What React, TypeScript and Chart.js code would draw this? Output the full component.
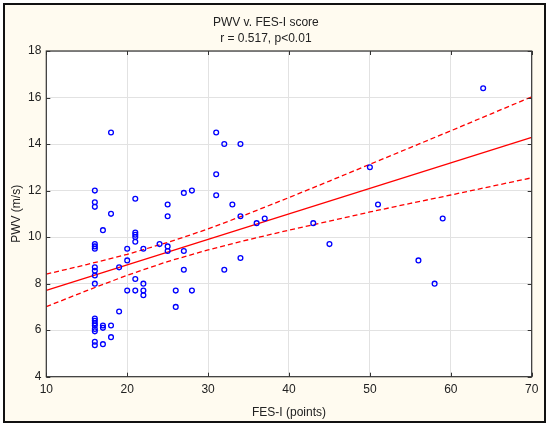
import React, { useEffect, useRef } from "react";
import { Chart, registerables, Plugin } from "chart.js";

Chart.register(...registerables);

// FES-I score (x) and PWV (y) for every subject
const fesScores = [
  16, 16, 16, 16, 16, 16, 16, 16, 16, 16, 16, 16, 16, 16, 16, 16, 16, 16,
  17, 17, 17, 17,
  18, 18, 18, 18,
  19, 19,
  20, 20, 20,
  21, 21, 21, 21, 21, 21, 21,
  22, 22, 22, 22,
  24,
  25, 25, 25, 25,
  26, 26,
  27, 27, 27,
  28, 28,
  31, 31, 31,
  32, 32,
  33,
  34, 34, 34,
  36, 37, 43, 45, 50, 51, 56, 58, 59, 64,
];
const pwvValues = [
  12.0, 11.5, 11.3, 9.7, 9.6, 9.5, 8.7, 8.55, 8.35, 8.0, 6.5, 6.4, 6.3, 6.2, 6.05, 5.95, 5.5, 5.35,
  10.3, 6.2, 6.1, 5.4,
  14.5, 11.0, 6.2, 5.7,
  8.7, 6.8,
  9.5, 9.0, 7.7,
  11.65, 10.2, 10.1, 10.0, 9.8, 8.2, 7.7,
  9.5, 8.0, 7.7, 7.5,
  9.7,
  11.4, 10.9, 9.6, 9.4,
  7.7, 7.0,
  11.9, 9.4, 8.6,
  12.0, 7.7,
  14.5, 12.7, 11.8,
  14.0, 8.6,
  11.4,
  14.0, 10.9, 9.1,
  10.6, 10.8, 10.6, 9.7, 13.0, 11.4, 9.0, 8.0, 10.8, 16.4,
];

// regression line and its 95% confidence band
const fitX = [10, 70];
const fitY = [7.71, 14.29];
const bandX = [10, 15, 20, 25, 30, 35, 40, 45, 50, 55, 60, 65, 70];
const upperBand = [8.41, 8.82, 9.26, 9.77, 10.35, 11.01, 11.7, 12.41, 13.13, 13.85, 14.57, 15.3, 16.03];
const lowerBand = [7.01, 7.7, 8.36, 8.95, 9.45, 9.89, 10.3, 10.69, 11.08, 11.45, 11.81, 12.18, 12.55];

const xTicks = [10, 20, 30, 40, 50, 60, 70];
const yTicks = [4, 6, 8, 10, 12, 14, 16, 18];

const FONT = "'Liberation Sans', Arial, sans-serif";
const INK = "#222";

const plotFrame: Plugin<"scatter"> = {
  id: "plotFrame",
  beforeDraw(chart) {
    const { ctx, chartArea: a } = chart;
    ctx.save();
    ctx.fillStyle = "#ffffff";
    ctx.fillRect(a.left, a.top, a.right - a.left, a.bottom - a.top);
    ctx.restore();
  },
  afterDatasetsDraw(chart) {
    const { ctx, chartArea: a, scales } = chart;
    const len = 4;
    ctx.save();
    ctx.strokeStyle = "#333";
    ctx.lineWidth = 1;
    ctx.beginPath();
    scales.x.ticks.forEach((t) => {
      const px = Math.round(scales.x.getPixelForValue(t.value)) + 0.5;
      ctx.moveTo(px, a.bottom);
      ctx.lineTo(px, a.bottom - len);
      ctx.moveTo(px, a.top);
      ctx.lineTo(px, a.top + len);
    });
    scales.y.ticks.forEach((t) => {
      const py = Math.round(scales.y.getPixelForValue(t.value)) + 0.5;
      ctx.moveTo(a.left, py);
      ctx.lineTo(a.left + len, py);
      ctx.moveTo(a.right, py);
      ctx.lineTo(a.right - len, py);
    });
    ctx.stroke();
    ctx.lineWidth = 1.2;
    ctx.strokeRect(a.left, a.top, a.right - a.left, a.bottom - a.top);
    ctx.restore();
  },
};

const App: React.FC = () => {
  const chartRef = useRef<HTMLCanvasElement>(null);
  const chartInstance = useRef<Chart | null>(null);

  useEffect(() => {
    document.body.style.margin = "0";
    if (!chartRef.current) return;
    if (chartInstance.current) chartInstance.current.destroy();

    const points = fesScores.map((x, i) => ({ x, y: pwvValues[i] }));
    const fit = fitX.map((x, i) => ({ x, y: fitY[i] }));
    const upper = bandX.map((x, i) => ({ x, y: upperBand[i] }));
    const lower = bandX.map((x, i) => ({ x, y: lowerBand[i] }));

    const redLine = {
      type: "line" as const,
      showLine: true,
      borderColor: "#ff0000",
      borderWidth: 1.3,
      pointRadius: 0,
      fill: false,
      tension: 0,
    };

    chartInstance.current = new Chart(chartRef.current, {
      type: "scatter",
      data: {
        datasets: [
          {
            label: "PWV",
            data: points,
            pointStyle: "circle",
            pointRadius: 2.4,
            borderColor: "#0000ff",
            backgroundColor: "rgba(0,0,0,0)",
            borderWidth: 1.3,
          },
          { ...redLine, label: "fit", data: fit },
          { ...redLine, label: "upper", data: upper, borderDash: [5, 3] },
          { ...redLine, label: "lower", data: lower, borderDash: [5, 3] },
        ],
      },
      options: {
        responsive: false,
        animation: false,
        layout: { padding: { top: 6, left: 0, right: 18.3, bottom: 0 } },
        plugins: {
          legend: { display: false },
          tooltip: { enabled: false },
          title: {
            display: true,
            text: "PWV v. FES-I score",
            color: INK,
            font: { family: FONT, size: 12, weight: "normal" },
            padding: { top: 9, bottom: 2 },
          },
          subtitle: {
            display: true,
            text: "r = 0.517, p<0.01",
            color: INK,
            font: { family: FONT, size: 12, weight: "normal" },
            padding: { top: 0.5, bottom: 4.7 },
          },
        },
        scales: {
          x: {
            type: "linear",
            min: 10,
            max: 70,
            afterBuildTicks: (s) => {
              s.ticks = xTicks.map((value) => ({ value }));
            },
            afterFit: (s) => {
              s.height = 50.3;
            },
            grid: { color: "#e2e2e2", drawTicks: false },
            border: { display: false },
            ticks: {
              color: INK,
              padding: 6,
              maxRotation: 0,
              font: { family: FONT, size: 12 },
            },
            title: {
              display: true,
              text: "FES-I (points)",
              color: INK,
              font: { family: FONT, size: 12 },
              padding: { top: 0, bottom: 7 },
            },
          },
          y: {
            type: "linear",
            min: 4,
            max: 18,
            afterBuildTicks: (s) => {
              s.ticks = yTicks.map((value) => ({ value }));
            },
            afterFit: (s) => {
              s.width = 46.3;
            },
            grid: { color: "#e2e2e2", drawTicks: false },
            border: { display: false },
            ticks: {
              color: INK,
              padding: 5,
              font: { family: FONT, size: 12 },
            },
            title: {
              display: true,
              text: "PWV (m/s)",
              color: INK,
              font: { family: FONT, size: 12 },
              padding: { top: 9.3, bottom: 0 },
            },
          },
        },
      },
      plugins: [plotFrame],
    });

    return () => {
      if (chartInstance.current) {
        chartInstance.current.destroy();
        chartInstance.current = null;
      }
    };
  }, []);

  return (
    <div style={{ position: "relative", width: 550, height: 427, background: "#ffffff" }}>
      <div
        style={{
          position: "absolute",
          left: 3,
          top: 3,
          width: 543,
          height: 420,
          boxSizing: "border-box",
          border: "2px solid #111",
          background: "#fffbf0",
        }}
      />
      <canvas
        ref={chartRef}
        width={550}
        height={427}
        style={{ position: "absolute", left: 0, top: 0, width: 550, height: 427 }}
      ></canvas>
    </div>
  );
};

export default App;
